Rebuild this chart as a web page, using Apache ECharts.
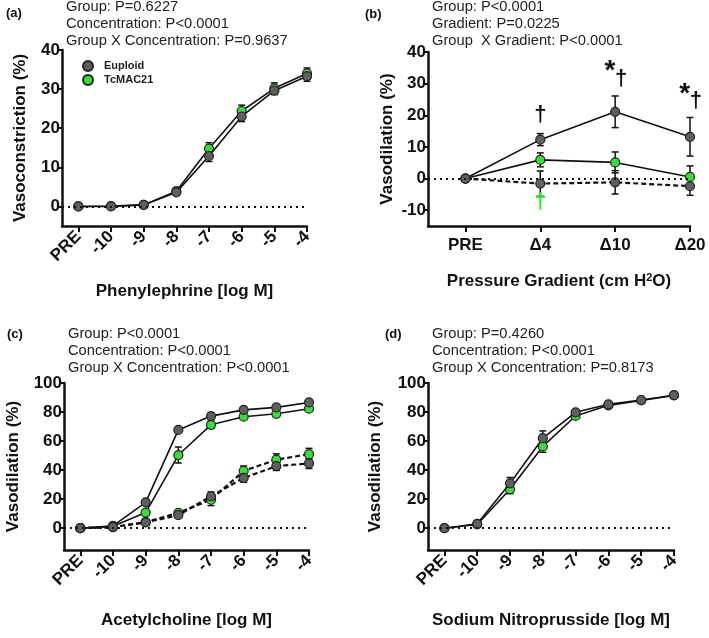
<!DOCTYPE html>
<html>
<head>
<meta charset="utf-8">
<title></title>
<script src="https://cdn.jsdelivr.net/npm/echarts@6/dist/echarts.min.js"></script>
<style>
  html, body { margin: 0; padding: 0; background: #fff; }
</style>
</head>
<body>
<div id="main" style="width: 709px; height: 638px;"></div>
<script type="text/javascript">
// category labels
var concLabels = ['PRE', '-10', '-9', '-8', '-7', '-6', '-5', '-4'];
var gradLabels = ['PRE', '\u03944', '\u039410', '\u039420'];

// (a) phenylephrine
var aEuploid = [0, 0, 0.4, 3.6, 12.9, 23.0, 29.6, 33.3];
var aEuploidErr = [0.3, 0.3, 0.4, 0.6, 1.4, 1.3, 1.0, 1.3];
var aTcMAC = [0, 0.1, 0.4, 3.9, 14.8, 24.4, 30.2, 34.0];
var aTcMACErr = [0.3, 0.3, 0.4, 0.6, 1.5, 1.5, 1.4, 1.4];

// (b) pressure gradient
var bEuploid = [0, 12.3, 21.1, 13.2];
var bEuploidErr = [0, 1.9, 5.0, 6.1];
var bTcMAC = [0, 5.9, 5.1, 0.5];
var bTcMACErr = [0, 2.2, 3.3, 3.5];
var bEuploidDash = [0, -1.6, -1.2, -2.4];
var bEuploidDashErr = [0, 4.0, 3.7, 2.9];
// significance marks in (b)
var bMarkX = [1, 1.93, 2.08, 2.93, 3.08, 1];
var bMarkY = [20, 34, 31.5, 26.5, 24.5, -7.5];
var bMarkText = ['\u2020', '*', '\u2020', '*', '\u2020', '\u2020'];
var bMarkColor = ['#111', '#111', '#111', '#111', '#111', '#33e033'];

// (c) acetylcholine
var cEuploid = [0, 1.6, 17.8, 67.7, 77.2, 81.5, 83.2, 86.6];
var cEuploidErr = [0.5, 0.8, 1.5, 1.5, 1.5, 1.2, 1.2, 1.2];
var cTcMAC = [0, 1.3, 10.8, 50.4, 71.2, 76.8, 78.8, 82.3];
var cTcMACErr = [0.5, 0.8, 1.5, 5.5, 2.5, 1.5, 1.5, 1.5];
var cEuploidDash = [0, 0.8, 4.0, 9.0, 22.0, 34.6, 42.8, 44.6];
var cEuploidDashErr = [0.5, 0.6, 1.0, 2.0, 3.0, 3.0, 3.0, 3.5];
var cTcMACDash = [0, 0.8, 4.2, 10.6, 19.6, 39.4, 47.2, 51.0];
var cTcMACDashErr = [0.5, 0.6, 1.0, 1.5, 4.0, 3.5, 4.0, 4.0];

// (d) sodium nitroprusside
var dEuploid = [0, 3.0, 30.9, 62.0, 79.8, 85.3, 88.3, 91.6];
var dEuploidErr = [0.5, 1.0, 4.0, 5.0, 1.5, 1.0, 1.0, 1.0];
var dTcMAC = [0, 2.6, 26.8, 56.3, 77.3, 84.6, 88.0, 91.5];
var dTcMACErr = [0.5, 1.0, 3.0, 4.0, 1.5, 1.0, 1.0, 1.0];

var statsA = 'Group: P=0.6227\nConcentration: P<0.0001\nGroup X Concentration: P=0.9637';
var statsB = 'Group: P<0.0001\nGradient: P=0.0225\nGroup  X Gradient: P<0.0001';
var statsC = 'Group: P<0.0001\nConcentration: P<0.0001\nGroup X Concentration: P<0.0001';
var statsD = 'Group: P=0.4260\nConcentration: P<0.0001\nGroup X Concentration: P=0.8173';

var FONT = '"Liberation Sans", Arial, sans-serif';
var GRAY = '#5f5f5f';
var GREEN = '#33e033';

var myChart = echarts.init(document.getElementById('main'));

function idx(arr) {
    return arr.map(function (v, i) { return i; });
}

function xAxisFor(grid, labels, rotate, name, gap) {
    return {
        type: 'value', gridIndex: grid,
        min: -0.5, max: labels.length - 1,
        name: name, nameLocation: 'middle', nameGap: gap,
        nameTextStyle: { fontFamily: FONT, fontWeight: 'bold', fontSize: 17, color: '#111',
            rich: { sup: { fontFamily: FONT, fontWeight: 'bold', fontSize: 11, color: '#111', verticalAlign: 'top', padding: [0, 0, 8, 0] } } },
        axisLine: { show: true, onZero: false, lineStyle: { color: '#111', width: 2.5 } },
        axisTick: { show: true, length: 6, lineStyle: { color: '#111', width: 2 }, customValues: idx(labels) },
        axisLabel: {
            customValues: idx(labels), rotate: rotate, margin: rotate ? 8 : 11,
            fontFamily: FONT, fontWeight: 'bold', fontSize: 17, color: '#111',
            formatter: function (v) { return labels[Math.round(v)]; }
        },
        splitLine: { show: false }
    };
}

function yAxisFor(grid, min, max, ticks, name, gap) {
    return {
        type: 'value', gridIndex: grid, min: min, max: max,
        name: name, nameLocation: 'middle', nameGap: gap,
        nameTextStyle: { fontFamily: FONT, fontWeight: 'bold', fontSize: 17, color: '#111' },
        axisLine: { show: true, onZero: false, lineStyle: { color: '#111', width: 2.5 } },
        axisTick: { show: true, length: 4, lineStyle: { color: '#111', width: 2 }, customValues: ticks },
        axisLabel: { customValues: ticks, margin: 2, fontFamily: FONT, fontWeight: 'bold', fontSize: 17, color: '#111' },
        splitLine: { show: false }
    };
}

function lineSeries(name, grid, values, color, dashed, z) {
    return {
        name: name, type: 'line', xAxisIndex: grid, yAxisIndex: grid,
        data: values.map(function (v, i) { return [i, v]; }),
        symbol: 'circle', symbolSize: 9, z: z,
        itemStyle: { color: color, borderColor: '#222', borderWidth: 1.2 },
        lineStyle: { color: '#111', width: dashed ? 2.2 : 1.6, type: dashed ? [5, 3] : 'solid' },
        emphasis: { disabled: true }
    };
}

function errSeries(grid, values, errs) {
    return {
        type: 'custom', xAxisIndex: grid, yAxisIndex: grid, z: 1, silent: true,
        data: values.map(function (v, i) { return [i, v - errs[i], v + errs[i]]; }),
        renderItem: function (params, api) {
            var lo = api.coord([api.value(0), api.value(1)]);
            var hi = api.coord([api.value(0), api.value(2)]);
            var w = 3.5;
            var st = { stroke: '#111', lineWidth: 1.5 };
            return {
                type: 'group',
                children: [
                    { type: 'line', shape: { x1: lo[0], y1: lo[1], x2: hi[0], y2: hi[1] }, style: st },
                    { type: 'line', shape: { x1: lo[0] - w, y1: lo[1], x2: lo[0] + w, y2: lo[1] }, style: st },
                    { type: 'line', shape: { x1: hi[0] - w, y1: hi[1], x2: hi[0] + w, y2: hi[1] }, style: st }
                ]
            };
        }
    };
}

function zeroLine(grid) {
    return {
        type: 'line', xAxisIndex: grid, yAxisIndex: grid, data: [], silent: true,
        markLine: {
            silent: true, symbol: 'none', label: { show: false },
            lineStyle: { color: '#111', type: [2, 4], width: 2 },
            data: [{ yAxis: 0 }]
        }
    };
}

function statsText(x, y, txt) {
    return { type: 'text', left: x, top: y,
        style: { text: txt, font: '14.7px ' + FONT, fill: '#222', lineHeight: 16.6 } };
}
function panelTag(x, y, txt) {
    return { type: 'text', left: x, top: y,
        style: { text: txt, font: 'bold 13px ' + FONT, fill: '#111' } };
}

myChart.setOption({
    animation: false,
    grid: [
        { left: 62, top: 50, width: 245, height: 176 },
        { left: 428, top: 52, width: 262, height: 174 },
        { left: 64, top: 383, width: 245, height: 167 },
        { left: 428, top: 383, width: 246, height: 167 }
    ],
    legend: {
        left: 77, top: 55, orient: 'vertical', itemGap: 2,
        itemWidth: 10, itemHeight: 10, icon: 'circle',
        textStyle: { fontFamily: FONT, fontWeight: 'bold', fontSize: 11, color: '#222', padding: [0, 0, 0, 6] },
        data: ['Euploid', 'TcMAC21']
    },
    xAxis: [
        xAxisFor(0, concLabels, 45, 'Phenylephrine [log M]', 57),
        xAxisFor(1, gradLabels, 0, 'Pressure Gradient (cm H{sup|2}O)', 46),
        xAxisFor(2, concLabels, 45, 'Acetylcholine [log M]', 62),
        xAxisFor(3, concLabels, 45, 'Sodium Nitroprusside [log M]', 62)
    ],
    yAxis: [
        yAxisFor(0, -5, 40, [0, 10, 20, 30, 40], 'Vasoconstriction (%)', 33),
        yAxisFor(1, -15, 40, [-10, 0, 10, 20, 30, 40], 'Vasodilation (%)', 32),
        yAxisFor(2, -15, 100, [0, 20, 40, 60, 80, 100], 'Vasodilation (%)', 42),
        yAxisFor(3, -15, 100, [0, 20, 40, 60, 80, 100], 'Vasodilation (%)', 44)
    ],
    graphic: [
        panelTag(6, 7, '(a)'), statsText(66, -1, statsA),
        panelTag(365, 8, '(b)'), statsText(432, -1, statsB),
        panelTag(7, 328, '(c)'), statsText(68, 326, statsC),
        panelTag(385, 328, '(d)'), statsText(432, 326, statsD)
    ],
    series: [
        zeroLine(0), zeroLine(1), zeroLine(2), zeroLine(3),
        // (a)
        errSeries(0, aTcMAC, aTcMACErr), errSeries(0, aEuploid, aEuploidErr),
        lineSeries('TcMAC21', 0, aTcMAC, GREEN, false, 2),
        lineSeries('Euploid', 0, aEuploid, GRAY, false, 3),
        // (b)
        errSeries(1, bEuploid, bEuploidErr), errSeries(1, bTcMAC, bTcMACErr), errSeries(1, bEuploidDash, bEuploidDashErr),
        lineSeries('TcMAC21', 1, bTcMAC, GREEN, false, 2),
        lineSeries('Euploid', 1, bEuploid, GRAY, false, 3),
        lineSeries('Euploid', 1, bEuploidDash, GRAY, true, 3),
        {
            type: 'scatter', xAxisIndex: 1, yAxisIndex: 1, symbolSize: 1, silent: true, z: 5, clip: false,
            itemStyle: { opacity: 0 },
            data: bMarkX.map(function (x, i) {
                return {
                    value: [x, bMarkY[i]],
                    label: {
                        show: true, position: 'inside', formatter: bMarkText[i], color: bMarkColor[i],
                        textBorderWidth: 0, opacity: 1,
                        fontFamily: FONT, fontWeight: 'bold', fontSize: bMarkText[i] === '*' ? 28 : 22
                    }
                };
            })
        },
        // (c)
        errSeries(2, cEuploid, cEuploidErr), errSeries(2, cTcMAC, cTcMACErr),
        errSeries(2, cEuploidDash, cEuploidDashErr), errSeries(2, cTcMACDash, cTcMACDashErr),
        lineSeries('TcMAC21', 2, cTcMAC, GREEN, false, 2),
        lineSeries('Euploid', 2, cEuploid, GRAY, false, 3),
        lineSeries('TcMAC21', 2, cTcMACDash, GREEN, true, 2),
        lineSeries('Euploid', 2, cEuploidDash, GRAY, true, 3),
        // (d)
        errSeries(3, dEuploid, dEuploidErr), errSeries(3, dTcMAC, dTcMACErr),
        lineSeries('TcMAC21', 3, dTcMAC, GREEN, false, 2),
        lineSeries('Euploid', 3, dEuploid, GRAY, false, 3)
    ]
});
</script>
</body>
</html>
